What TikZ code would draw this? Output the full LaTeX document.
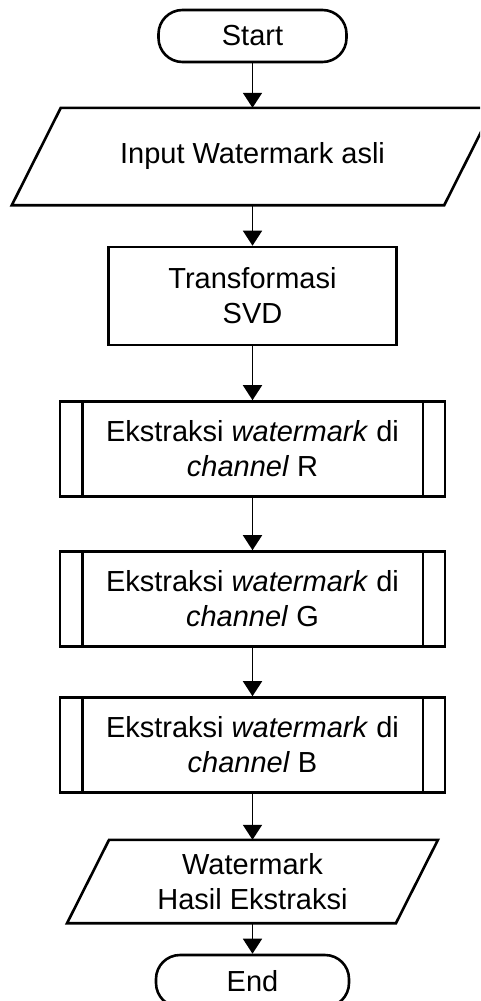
\documentclass[tikz,border=0pt]{standalone}
\usepackage{fontspec}
\setmainfont{Liberation Sans}
\usetikzlibrary{arrows.meta,calc}
\begin{document}
\begin{tikzpicture}[x=1pt,y=-1pt,
  every node/.style={font=\fontsize{29}{35}\selectfont, align=center, inner sep=0pt},
  outline/.style={line width=2.6pt, line join=miter},
  terminal/.style={outline, draw, rounded corners=24pt, minimum width=#1, minimum height=52pt},
  process/.style={outline, draw, minimum width=288pt, minimum height=98pt},
  subproc/.style={outline, draw, minimum width=385pt, minimum height=95pt},
  iobox/.style n args={2}{minimum width=#1, minimum height=#2},
  flow/.style={line width=1.7pt, -{Triangle[length=15pt,width=19pt]}}
]
\useasboundingbox (0,0) rectangle (480,1001);
\clip (0,0) rectangle (480,1001);

% nodes, top to bottom
\node[terminal=188pt] (start) at (252.5,36) {Start};
\node[iobox={432pt}{97pt}] (in) at (252.5,156.5) {Input Watermark asli};
\node[process] (svd) at (252.5,296) {Transformasi\\SVD};
\node[subproc] (r) at (252.5,449) {Ekstraksi \textit{watermark} di\\\textit{channel} R};
\node[subproc] (g) at (252.5,599) {Ekstraksi \textit{watermark} di\\\textit{channel} G};
\node[subproc] (b) at (252.5,745) {Ekstraksi \textit{watermark} di\\\textit{channel} B};
\node[iobox={328.5pt}{83pt}] (out) at (252.5,881.5) {Watermark\\Hasil Ekstraksi};
\node[terminal=193pt] (end) at (252.5,981) {End};

% parallelogram outlines of the input/output nodes
\draw[outline] ($(in.north west)+(24.5,0)$) -- ($(in.north east)+(24.5,0)$)
  -- ($(in.south east)+(-24.5,0)$) -- ($(in.south west)+(-24.5,0)$) -- cycle;
\draw[outline] ($(out.north west)+(21,0)$) -- ($(out.north east)+(21,0)$)
  -- ($(out.south east)+(-21,0)$) -- ($(out.south west)+(-21,0)$) -- cycle;

% side bars of the predefined-process boxes
\foreach \n in {r,g,b}{
  \draw[outline] ($(\n.north west)+(23.5,0)$) -- ($(\n.south west)+(23.5,0)$);
  \draw[outline] ($(\n.north east)+(-23.5,0)$) -- ($(\n.south east)+(-23.5,0)$);
}

% connectors
\draw[flow] (start.south) -- (in.north);
\draw[flow] (in.south) -- (svd.north);
\draw[flow] (svd.south) -- (r.north);
\draw[flow] (r.south) -- (g.north);
\draw[flow] (g.south) -- (b.north);
\draw[flow] (b.south) -- (out.north);
\draw[flow] (out.south) -- (end.north);
\end{tikzpicture}
\end{document}
